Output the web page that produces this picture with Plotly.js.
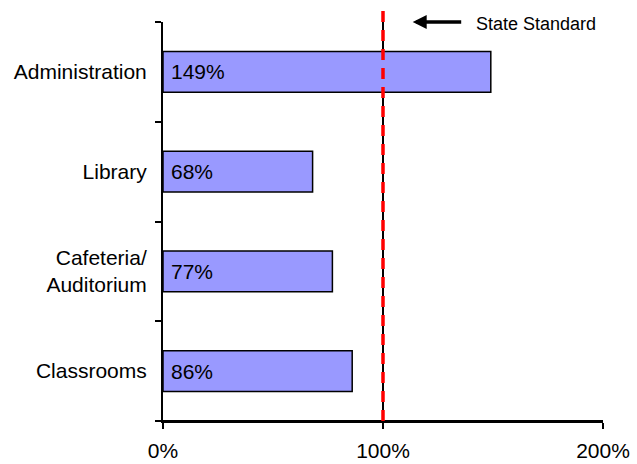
<!DOCTYPE html>
<html>
<head>
<meta charset="utf-8">
<script src="https://cdn.plot.ly/plotly-3.0.1.min.js"></script>
<style>
  html, body { margin: 0; padding: 0; background: #ffffff; }
  #chart { width: 637px; height: 464px; }
</style>
</head>
<body>
<div id="chart"></div>
<script>
// Space utilisation by area, as a percentage of the state standard
const categories = ["Classrooms", "Cafeteria/<br>Auditorium", "Library", "Administration"];
const percentOfStandard = [86, 77, 68, 149];
const standardLevel = [100];
const xTickValues = [0, 100, 200];
const xTickLabels = ["0%", "100%", "200%"];
const standardLabel = "State Standard";

const FONT = "Liberation Sans, Arial, sans-serif";

const bars = {
  type: "bar",
  orientation: "h",
  y: categories,
  x: percentOfStandard,
  marker: { color: "#9999FF", line: { color: "#000000", width: 1.5 } },
  hoverinfo: "none",
  showlegend: false
};

// value labels sit just inside the left end of each bar
const valueLabels = categories.map((c, i) => ({
  x: 0, y: c, xref: "x", yref: "y",
  text: percentOfStandard[i] + "%",
  showarrow: false, xanchor: "left", xshift: 6,
  font: { family: FONT, size: 21, color: "#000000" }
}));

const annotations = valueLabels.concat([
  {
    // arrow pointing back towards the standard line
    x: standardLevel[0] + 13.5, y: 1.0, xref: "x", yref: "paper",
    ax: 50, ay: 0, axref: "pixel", ayref: "pixel",
    text: "", showarrow: true, arrowhead: 2, arrowsize: 0.8,
    arrowwidth: 3.5, arrowcolor: "#000000"
  },
  {
    x: 169.5, y: 0.995, xref: "x", yref: "paper",
    text: standardLabel, showarrow: false,
    xanchor: "center", yanchor: "middle",
    bgcolor: "#ffffff", borderpad: 6,
    font: { family: FONT, size: 18, color: "#000000" }
  }
]);

const shapes = [
  {
    // baseline along the value axis
    type: "line", xref: "x", yref: "paper",
    x0: xTickValues[0], x1: xTickValues[xTickValues.length - 1], y0: 0, y1: 0,
    line: { color: "#000000", width: 2 },
    layer: "above"
  },
  {
    type: "line", xref: "x", yref: "paper",
    x0: standardLevel[0], x1: standardLevel[0], y0: 0, y1: 1.035,
    line: { color: "#FF0000", width: 3.5, dash: "11px,8px" },
    layer: "above"
  }
];

const layout = {
  width: 637, height: 464,
  margin: { l: 163, r: 34, t: 22, b: 43, pad: 0 },
  paper_bgcolor: "#ffffff", plot_bgcolor: "#ffffff",
  font: { family: FONT, size: 21, color: "#000000" },
  bargap: 0.59,
  showlegend: false,
  xaxis: {
    range: [0, 200],
    tickvals: xTickValues, ticktext: xTickLabels,
    ticks: "outside", ticklen: 6, tickwidth: 2, tickcolor: "#000000",
    showline: true, linewidth: 2, linecolor: "#000000",
    showgrid: true, gridcolor: "#000000", gridwidth: 1.5,
    zeroline: false, ticklabelstandoff: 4,
    tickfont: { family: FONT, size: 21, color: "#000000" },
    fixedrange: true
  },
  yaxis: {
    type: "category", categoryorder: "array", categoryarray: categories,
    ticks: "outside", tickson: "boundaries", ticklen: 6, tickwidth: 2, tickcolor: "#000000",
    showline: true, linewidth: 2, linecolor: "#000000",
    showgrid: false, zeroline: false, ticklabelstandoff: 10,
    tickfont: { family: FONT, size: 21, color: "#000000" },
    fixedrange: true
  },
  annotations: annotations,
  shapes: shapes
};

Plotly.newPlot("chart", [bars], layout, { displayModeBar: false, staticPlot: true });
</script>
</body>
</html>
